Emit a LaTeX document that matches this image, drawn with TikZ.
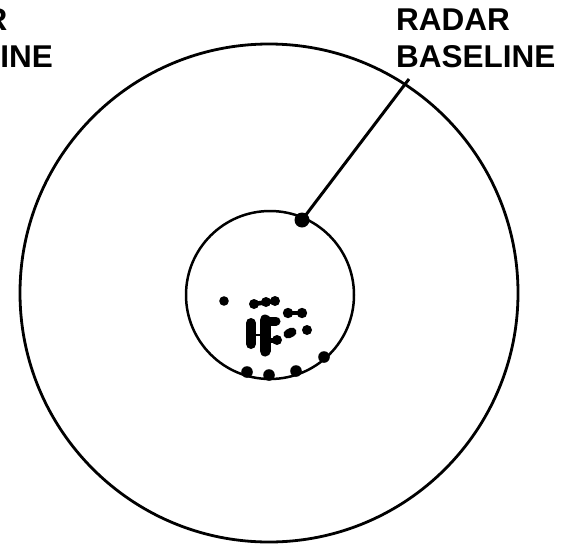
\documentclass[tikz,border=0pt]{standalone}
\usepackage{fontspec}
\setmainfont{Liberation Sans}
\begin{document}
\begin{tikzpicture}[x=1pt,y=-1pt,
  lbl/.style={font=\fontsize{31.5}{37}\selectfont\bfseries, inner sep=0pt},
  ring/.style={draw, line width=2.8pt},
  hubdot/.style={fill, circle, inner sep=0pt, minimum size=15pt},
  bar/.style={line width=10pt, line cap=round},
  link/.style={line width=4.5pt, line cap=round}]
\useasboundingbox (0,0) rectangle (578,544);
\clip (0,0) rectangle (578,544);
% rings
\draw[ring] (269,293) circle[radius=249];
\draw[line width=2.5pt] (270,295) circle[radius=84];
% labels
\node[lbl, anchor=base west] (ra) at (396,30) {RADAR};
\node[lbl, anchor=base west] (rb) at (396,67) {BASELINE};
\node[lbl, anchor=base east] (lb) at (53,67) {BASELINE};
\node[lbl, anchor=base west] (la) at ([yshift=37pt]lb.base west) {RADAR};
% baseline
\node[hubdot] (hub) at (302,220) {};
\coordinate (tip) at (409,79);
\draw[line width=3pt] (hub.center) -- (tip);
% cluster
\fill (224,301) circle[radius=4.8];
\draw[link] (254,304) -- (275,301);
\foreach \p in {(254,304),(266,302),(275,301)} \fill \p circle[radius=5];
\draw[link] (288,313) -- (302,313);
\foreach \p in {(288,313),(302,313)} \fill \p circle[radius=5.2];
\fill (307,330) circle[radius=5];
\draw[line width=9pt, line cap=round] (288,334) -- (292,332);
\draw[bar] (251,323) -- (251,344);
\draw[line width=11pt, line cap=round] (265,320) -- (265,351);
\draw[line width=9pt, line cap=round] (265,321) -- (276,321);
\draw[line width=5pt, line cap=round] (265,340) -- (277,340);
\fill (277,340) circle[radius=5];
\draw[line width=2pt] (251,335) -- (265,335);
% bumps on inner ring
\foreach \p in {(247,372),(269,375),(296,371),(324,357)} \fill \p circle[radius=5.8];
\end{tikzpicture}
\end{document}
